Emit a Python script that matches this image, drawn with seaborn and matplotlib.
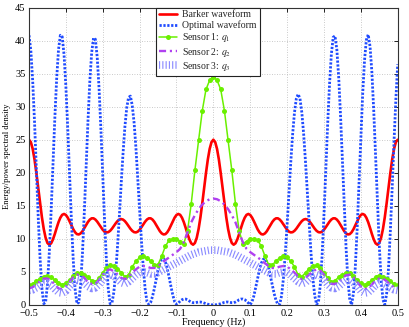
import numpy as np
import matplotlib
matplotlib.use("Agg")
import matplotlib.pyplot as plt
import seaborn as sns

# ---------------- data ----------------
# fine grid for the Barker / optimal waveform curves (step 0.005)
freq_fine = np.linspace(-0.5, 0.5, 201)
# coarse grid for the sensor curves (step 0.01)
freq_coarse = np.linspace(-0.5, 0.5, 101)

barker = [
    25.00, 24.64, 23.61, 22.00, 19.96, 17.70, 15.40, 13.28, 11.50, 10.18, 9.38, 9.12, 9.33, 9.92, 10.74, 11.66, 12.52,
    13.20, 13.64, 13.77, 13.62, 13.22, 12.67, 12.05, 11.46, 11.00, 10.72, 10.67, 10.83, 11.16, 11.62, 12.11, 12.57,
    12.92, 13.11, 13.11, 12.93, 12.61, 12.20, 11.77, 11.38, 11.10, 10.98, 11.02, 11.22, 11.54, 11.94, 12.34, 12.69,
    12.92, 13.00,
    12.92, 12.69, 12.34, 11.94, 11.54, 11.22, 11.02, 10.98, 11.10, 11.38, 11.77, 12.20, 12.61, 12.93, 13.11, 13.11,
    12.92, 12.57, 12.11, 11.62, 11.16, 10.83, 10.67, 10.72, 11.00, 11.46, 12.05, 12.67, 13.22, 13.62, 13.77, 13.64,
    13.20, 12.52, 11.66, 10.74, 9.92, 9.33, 9.12, 9.38, 10.18, 11.50, 13.28, 15.40, 17.70, 19.96, 22.00, 23.61, 24.64,
    25.00,
    24.64, 23.61, 22.00, 19.96, 17.70, 15.40, 13.28, 11.50, 10.18, 9.38, 9.12, 9.33, 9.92, 10.74, 11.66, 12.52,
    13.20, 13.64, 13.77, 13.62, 13.22, 12.67, 12.05, 11.46, 11.00, 10.72, 10.67, 10.83, 11.16, 11.62, 12.11, 12.57,
    12.92, 13.11, 13.11, 12.93, 12.61, 12.20, 11.77, 11.38, 11.10, 10.98, 11.02, 11.22, 11.54, 11.94, 12.34, 12.69,
    12.92, 13.00,
    12.92, 12.69, 12.34, 11.94, 11.54, 11.22, 11.02, 10.98, 11.10, 11.38, 11.77, 12.20, 12.61, 12.93, 13.11, 13.11,
    12.92, 12.57, 12.11, 11.62, 11.16, 10.83, 10.67, 10.72, 11.00, 11.46, 12.05, 12.67, 13.22, 13.62, 13.77, 13.64,
    13.20, 12.52, 11.66, 10.74, 9.92, 9.33, 9.12, 9.38, 10.18, 11.50, 13.28, 15.40, 17.70, 19.96, 22.00, 23.61, 24.64,
    25.00,
]

optimal = [
    40.8, 38.5, 33.9, 27.7, 20.5, 13.3, 7.1, 2.5, 0.2, 0.4, 3.1, 7.9, 14.2, 21.2, 28.2, 34.2, 38.6, 40.8, 40.6, 37.9,
    33.1, 26.8, 19.8, 12.8, 6.8, 2.4, 0.2, 0.4, 3.1, 7.8, 14.0, 21.0, 27.9, 33.9, 38.2, 40.4, 40.2, 37.5, 32.8, 26.6,
    19.6, 12.7, 6.7, 2.4, 0.2, 0.3, 1.9, 4.8, 8.8, 13.4, 18.3, 22.9, 26.9, 29.8, 31.4, 31.6, 30.2, 27.6, 23.8, 19.2,
    14.4, 9.7, 5.6, 2.4, 0.5, 0.1, 0.4, 1.3, 2.5, 3.9, 5.3, 6.3, 6.9, 7.0, 6.5, 5.5, 4.2, 2.8, 1.5, 0.5, 0.1,
    0.3, 0.6, 0.8, 0.9, 0.9, 0.8, 0.6, 0.45, 0.35, 0.35, 0.4, 0.45, 0.45, 0.4, 0.3, 0.2, 0.12, 0.06, 0.03, 0.02,
    0.03, 0.06, 0.12, 0.2, 0.3, 0.4, 0.45, 0.45, 0.4, 0.35, 0.35, 0.45, 0.6, 0.8, 0.9, 0.9, 0.8, 0.6, 0.3,
    0.05, 0.5, 1.4, 2.7, 4.0, 5.3, 6.3, 6.9, 7.0, 6.5, 5.6, 4.3, 3.0, 1.7, 0.7, 0.1, 0.1, 1.4, 4.0, 7.7, 12.1, 16.9,
    21.6, 25.8, 29.1, 31.2, 31.9, 31.2, 29.1, 25.8, 21.6, 16.9, 12.1, 7.7, 4.0, 1.4, 0.1, 0.4, 3.0, 7.5, 13.6, 20.5,
    27.3, 33.3, 37.9, 40.5, 40.7, 38.6, 34.4, 28.6, 21.8, 14.9, 8.6, 3.7, 0.8, 0.05, 1.8, 5.7, 11.5, 18.3, 25.4, 31.9,
    37.0, 40.1, 40.9, 39.1, 35.2, 29.4, 22.6, 15.5, 9.0, 3.9, 0.8, 0.05, 1.7, 5.5, 11.1, 17.7, 24.7, 31.1, 36.4,
]

sensor1 = [
    3.0, 3.2, 3.6, 4.0, 4.3, 4.4, 4.2, 3.8, 3.3, 3.1, 3.3, 3.8, 4.4, 4.8, 4.9, 4.6, 4.2, 3.7, 3.5, 4.1,
    4.9, 5.6, 6.0, 5.9, 5.5, 4.9, 4.3, 4.5, 5.8, 6.6, 7.2, 7.35, 7.1, 6.7, 6.0, 6.1, 7.4, 8.9, 9.8, 10.0,
    10.0, 9.6, 9.3, 11.2, 15.3, 20.4, 24.9, 29.4, 32.6, 34.0,
    34.5,
    34.0, 32.6, 29.4, 24.9, 20.4, 15.3, 11.2, 9.3, 9.6, 10.0, 10.0, 9.8, 8.9, 7.4, 6.1, 6.0, 6.7, 7.1, 7.35, 7.2,
    6.6, 5.8, 4.5, 4.3, 4.9, 5.5, 5.9, 6.0, 5.6, 4.9, 4.1, 3.5, 3.7, 4.2, 4.6, 4.9, 4.8, 4.4, 3.8, 3.3,
    3.1, 3.3, 3.8, 4.2, 4.4, 4.3, 4.0, 3.6, 3.2, 3.0,
]

sensor2 = [
    2.5, 2.7, 3.1, 3.6, 4.0, 4.0, 3.7, 3.1, 2.5, 2.4, 2.8, 3.5, 4.2, 4.6, 4.5, 4.1, 3.4, 3.2, 3.2, 3.8,
    4.6, 5.2, 5.4, 5.1, 4.6, 4.1, 3.9, 4.3, 4.9, 5.4, 5.8, 5.9, 5.8, 5.6, 5.6, 5.9, 6.3, 6.8, 7.2, 7.6,
    8.0, 8.5, 9.5, 11.0, 12.5, 13.6, 14.5, 15.2, 15.7, 16.0,
    16.1,
    16.0, 15.7, 15.2, 14.5, 13.6, 12.5, 11.0, 9.5, 8.5, 8.0, 7.6, 7.2, 6.8, 6.3, 5.9, 5.6, 5.6, 5.8, 5.9, 5.8,
    5.4, 4.9, 4.3, 3.9, 4.1, 4.6, 5.1, 5.4, 5.2, 4.6, 3.8, 3.2, 3.2, 3.4, 4.1, 4.5, 4.6, 4.2, 3.5, 2.8,
    2.4, 2.5, 3.1, 3.7, 4.0, 4.0, 3.6, 3.1, 2.7, 2.5,
]

sensor3 = [
    2.2, 2.3, 2.6, 3.0, 3.3, 3.3, 3.0, 2.4, 1.9, 1.8, 2.1, 2.8, 3.4, 3.8, 3.7, 3.3, 2.8, 2.5, 2.6, 3.1,
    3.8, 4.4, 4.6, 4.4, 3.9, 3.4, 3.2, 3.5, 4.0, 4.5, 4.9, 5.0, 4.9, 4.7, 4.7, 4.9, 5.2, 5.5, 5.8, 6.1,
    6.4, 6.7, 7.0, 7.3, 7.6, 7.8, 8.0, 8.1, 8.2, 8.3,
    8.3,
    8.3, 8.2, 8.1, 8.0, 7.8, 7.6, 7.3, 7.0, 6.7, 6.4, 6.1, 5.8, 5.5, 5.2, 4.9, 4.7, 4.7, 4.9, 5.0, 4.9,
    4.5, 4.0, 3.5, 3.2, 3.4, 3.9, 4.4, 4.6, 4.4, 3.8, 3.1, 2.6, 2.5, 2.8, 3.3, 3.7, 3.8, 3.4, 2.8, 2.1,
    1.8, 1.9, 2.4, 3.0, 3.3, 3.3, 3.0, 2.6, 2.3, 2.2,
]

assert len(barker) == 201 and len(optimal) == 201
assert len(sensor1) == 101 and len(sensor2) == 101 and len(sensor3) == 101

labels = ["Barker waveform", "Optimal waveform", r"Sensor 1: $q_1$", r"Sensor 2: $q_2$", r"Sensor 3: $q_3$"]
xticks = [-0.5, -0.4, -0.3, -0.2, -0.1, 0.0, 0.1, 0.2, 0.3, 0.4, 0.5]
yticks = [0, 5, 10, 15, 20, 25, 30, 35, 40, 45]

# ---------------- style ----------------
sns.set_theme(style="white")
plt.rcParams["font.family"] = ["Liberation Serif", "DejaVu Serif"]
plt.rcParams["mathtext.fontset"] = "stix"
plt.rcParams["axes.unicode_minus"] = True

fig = plt.figure(figsize=(4.09, 3.27), dpi=100)
ax = fig.add_axes([29 / 409, 1 - 305 / 327, (397.7 - 29) / 409, (305 - 7.5) / 327])

handles = []
sns.lineplot(x=freq_fine, y=np.array(barker), ax=ax, color="#ff0000", linewidth=1.9, estimator=None, sort=False)
handles.append(ax.lines[-1])
sns.lineplot(x=freq_fine, y=np.array(optimal), ax=ax, color="#1f4bff", linewidth=2.0,
             linestyle=(0, (0.8, 0.6)), estimator=None, sort=False)
handles.append(ax.lines[-1])
sns.lineplot(x=freq_coarse, y=np.array(sensor1), ax=ax, color="#6af000", linewidth=1.1, marker="o",
             markersize=3.6, markeredgewidth=0, estimator=None, sort=False)
handles.append(ax.lines[-1])
sns.lineplot(x=freq_coarse, y=np.array(sensor2), ax=ax, color="#b040f0", linewidth=1.7,
             linestyle=(0, (3, 1.6, 0.9, 1.6)), estimator=None, sort=False)
handles.append(ax.lines[-1])
sns.lineplot(x=freq_coarse, y=np.array(sensor3), ax=ax, color="#8a8aff", linewidth=5.5,
             linestyle=(0, (0.15, 0.28)), estimator=None, sort=False)
handles.append(ax.lines[-1])

ax.set_xlim(-0.5, 0.5)
ax.set_ylim(0, 45)
ax.set_xticks(xticks)
ax.set_xticklabels([("\u2212" if t < 0 else "") + f"{abs(t):g}" for t in xticks])
ax.set_yticks(yticks)
ax.set_yticklabels([str(t) for t in yticks])
ax.grid(True, linestyle=(0, (1, 2)), color="#b8b8b8", linewidth=0.6)
ax.set_axisbelow(True)
ax.tick_params(direction="in", top=True, right=True, length=3, width=0.6, colors="black",
               labelsize=7.5)
ax.tick_params(axis="x", pad=3.2)
ax.tick_params(axis="y", pad=2.5)
for sp in ax.spines.values():
    sp.set_color("#333333")
    sp.set_linewidth(0.8)

ax.set_xlabel("Frequency (Hz)", fontsize=7.2, labelpad=-0.8, color="black")
ax.set_ylabel("Energy/power spectral density", fontsize=6.2, labelpad=3, color="black")

leg = ax.legend(handles, labels, loc="upper left", bbox_to_anchor=(0.3445, 1.0), fontsize=7,
                frameon=True, fancybox=False, edgecolor="#222222", framealpha=1, borderpad=0.3,
                handlelength=1.9, handletextpad=0.5, labelspacing=0.12, borderaxespad=0)
leg.get_frame().set_linewidth(0.8)

fig.savefig("out.png", dpi=100)
